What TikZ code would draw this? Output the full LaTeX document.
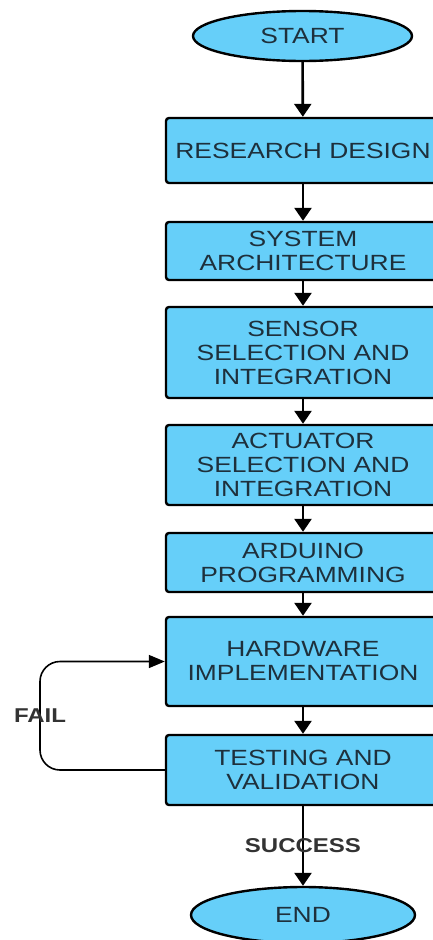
\documentclass[tikz,border=0pt]{standalone}
\usepackage{fontspec}
\setmainfont{Liberation Sans}[FakeStretch=1.2]
\usepackage{tikz}
\usetikzlibrary{arrows.meta,shapes.geometric,positioning}
\usepackage{xcolor}
\definecolor{boxfill}{RGB}{102,207,249}
\definecolor{boxtext}{RGB}{30,48,60}

\tikzset{
	stepbox/.style={draw=black, fill=boxfill, line width=2.4pt, rounded corners=3pt,
		minimum width=274pt, inner sep=0pt, align=center, text=boxtext,
		font=\fontsize{22}{24}\selectfont},
	terminal/.style={ellipse, draw=black, fill=boxfill, line width=2.4pt, inner sep=0pt,
		text=boxtext, font=\fontsize{22}{24}\selectfont},
	flow/.style={line width=2.6pt, -{Triangle[width=17pt,length=13pt]}},
	back/.style={line width=1.6pt, rounded corners=20pt, -{Triangle[width=13pt,length=16pt]}},
	lbl/.style={text=black!80, font=\fontsize{20}{21}\selectfont\bfseries}
}

\begin{document}
\begin{tikzpicture}[x=1pt,y=-1pt]
	\useasboundingbox (0,0) rectangle (433,940);
	\node[terminal, minimum width=219pt, minimum height=50pt] (start) at (302.5,36) {START};
	\node[stepbox, minimum height=65pt] (rd) at (303,150.5) {RESEARCH DESIGN};
	\node[stepbox, minimum height=58pt] (sa) at (303,251) {SYSTEM\\ARCHITECTURE};
	\node[stepbox, minimum height=91pt] (ss) at (303,352.5) {SENSOR\\SELECTION AND\\INTEGRATION};
	\node[stepbox, minimum height=80pt] (as) at (303,465) {ACTUATOR\\SELECTION AND\\INTEGRATION};
	\node[stepbox, minimum height=59pt] (ap) at (303,562.5) {ARDUINO\\PROGRAMMING};
	\node[stepbox, minimum height=89pt] (hw) at (303,661.5) {HARDWARE\\IMPLEMENTATION};
	\node[stepbox, minimum height=70pt] (tv) at (303,770) {TESTING AND\\VALIDATION};
	\node[terminal, minimum width=224pt, minimum height=56pt] (end) at (303,915) {END};
	%%%%%
	\draw[flow] (start) -- (rd);
	\draw[flow] (rd) -- (sa);
	\draw[flow] (sa) -- (ss);
	\draw[flow] (ss) -- (as);
	\draw[flow] (as) -- (ap);
	\draw[flow] (ap) -- (hw);
	\draw[flow] (hw) -- (tv);
	\draw[flow] (tv) -- node[lbl] {SUCCESS} (end);
	%%%%%
	\coordinate (loop) at (40,716);
	\draw[back] (tv.west) -| (loop) node[lbl] {FAIL} |- (hw.west);
\end{tikzpicture}
\end{document}
